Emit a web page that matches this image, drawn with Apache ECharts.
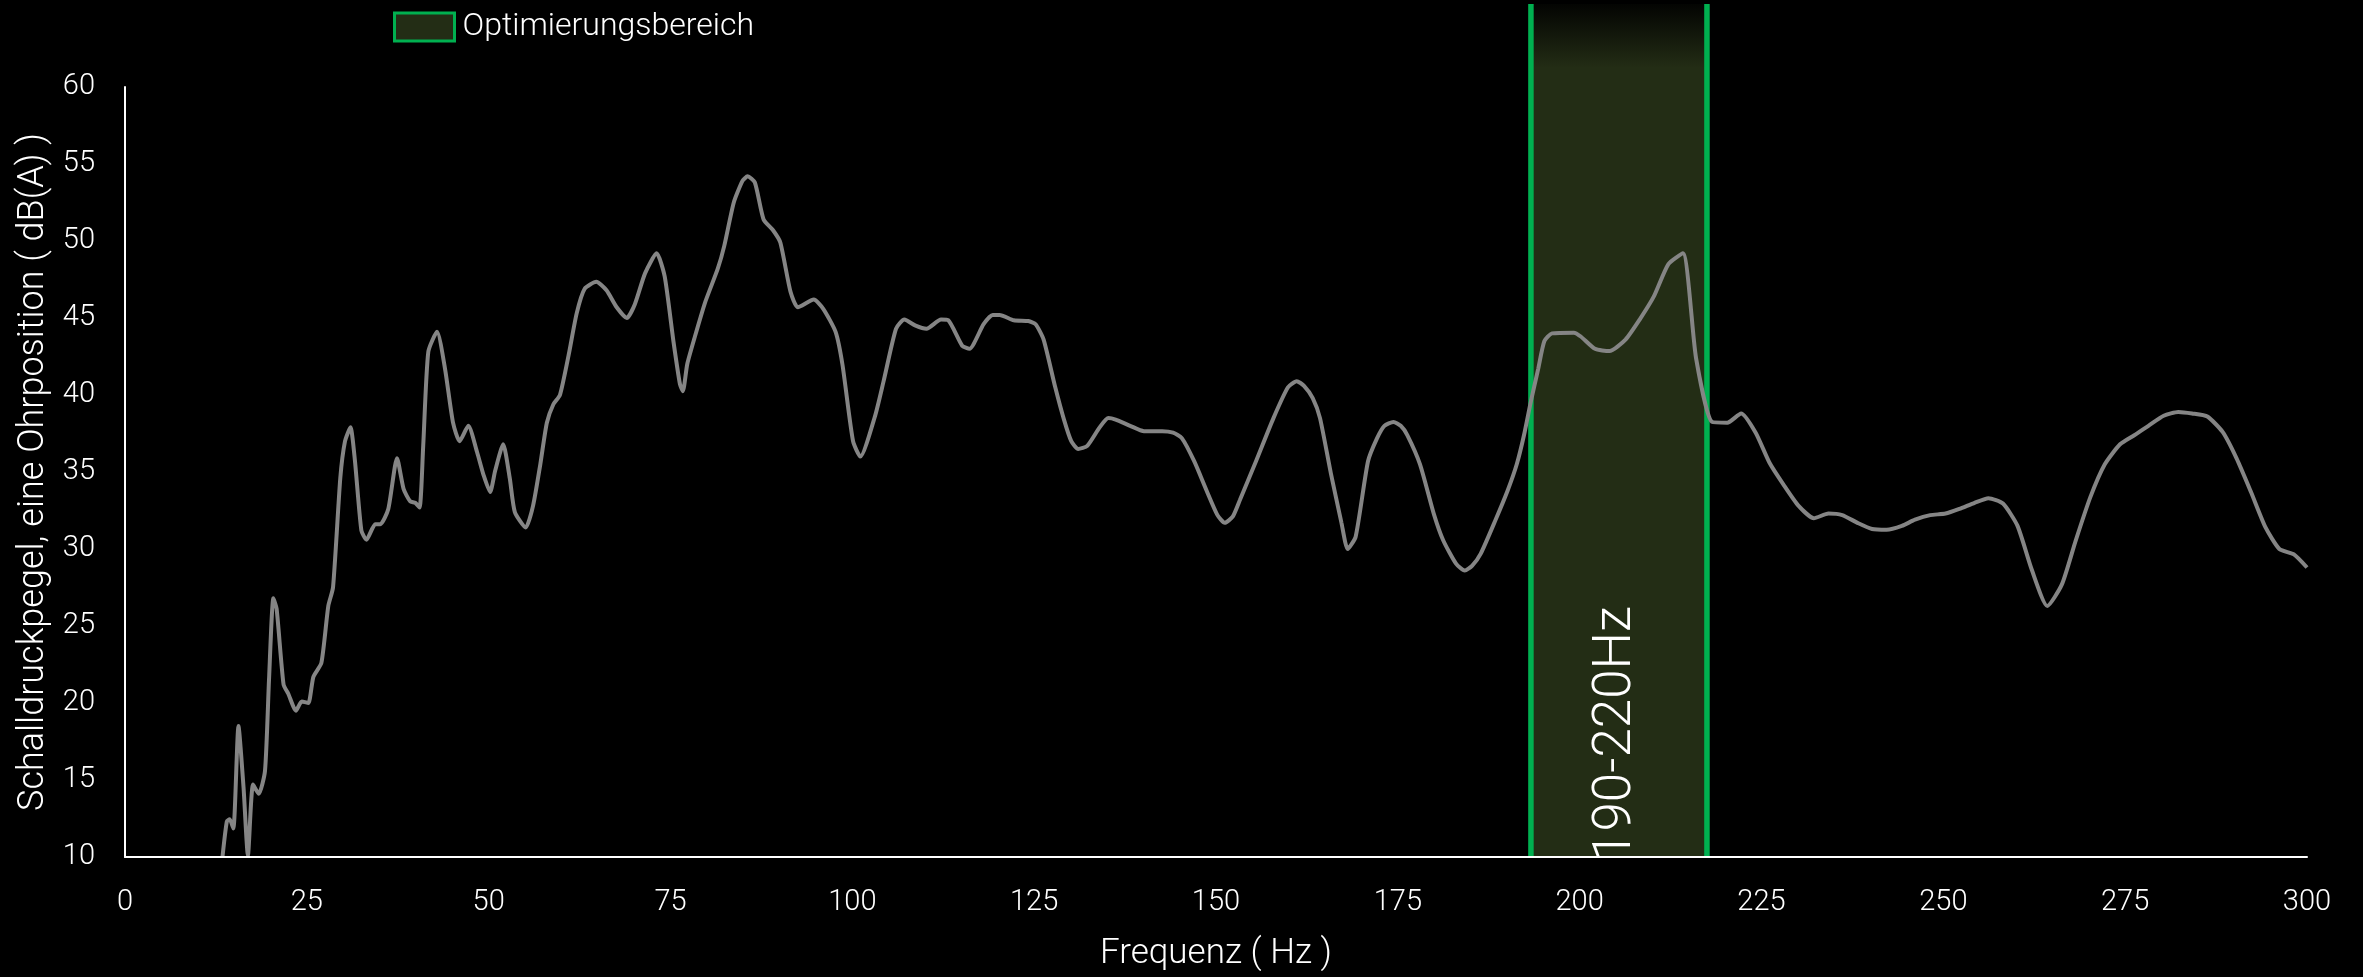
<!DOCTYPE html>
<html>
<head>
<meta charset="utf-8">
<title>Schalldruckpegel</title>
<script src="https://cdn.jsdelivr.net/npm/echarts@6/dist/echarts.min.js"></script>
<style>
  html, body { margin: 0; padding: 0; background: #000; }
  #chart { width: 2363px; height: 977px; }
</style>
</head>
<body>
<div id="chart"></div>
<script>
// Measured sound pressure level at one ear position over frequency
const freqHz = [
  13.4, 14.0, 14.4, 14.9, 15.6, 16.3, 16.9, 17.6, 18.4, 19.25, 19.8, 20.4, 20.85, 21.8, 22.45,
  23.5, 24.3, 25.2, 25.9, 27.0, 27.95, 28.6, 29.6, 30.25, 31.0, 31.6, 32.5, 33.2, 34.4, 35.1,
  36.2, 37.4, 38.3, 39.2, 39.9, 40.5, 41.0, 41.7, 42.9, 44.0, 45.1, 46.0, 47.2, 48.4, 49.3,
  50.2, 50.9, 52.0, 52.9, 53.6, 55.1, 56.1, 57.1, 58.0, 58.9, 59.8, 61.0, 62.1, 63.2, 64.8,
  66.2, 67.6, 69.0, 70.1, 71.5, 73.1, 74.2, 75.4, 76.3, 76.7, 77.3, 78.3, 79.75, 81.5, 82.4,
  83.7, 84.9, 85.6, 86.6, 87.8, 89.1, 90.1, 91.5, 92.5, 94.7, 96.0, 97.7, 98.65, 100.1, 101.1,
  103.1, 104.3, 106.0, 107.15, 108.7, 110.2, 112.2, 113.2, 115.1, 116.1, 118.05, 119.3, 120.25, 122.2, 124.2,
  125.2, 126.3, 127.9, 129.1, 130.1, 131.05, 132.3, 134.0, 135.2, 136.2, 138.2, 140.1, 142.6, 144.1, 145.3,
  147.0, 148.7, 150.2, 151.2, 152.3, 153.3, 155.5, 157.9, 159.9, 161.1, 162.1, 163.3, 164.3, 165.8, 167.25,
  168.1, 169.2, 170.9, 172.15, 173.15, 174.4, 175.4, 176.3, 178.05, 180.0, 181.25, 183.0, 184.2, 185.2, 186.4,
  188.4, 190.1, 191.35, 192.35, 193.3, 194.3, 195.15, 196.2, 199.2, 200.15, 202.1, 204.1, 206.3, 208.25, 210.2,
  212.2, 214.2, 216.0, 218.2, 220.3, 222.2, 224.2, 226.1, 228.0, 230.1, 232.2, 234.2, 236.1, 238.2, 240.2,
  242.2, 244.3, 246.1, 248.2, 250.3, 252.2, 254.3, 256.2, 258.2, 260.2, 262.2, 264.3, 266.3, 268.2, 270.2,
  272.2, 274.3, 276.3, 278.2, 280.3, 282.3, 284.2, 286.3, 288.4, 290.3, 292.3, 294.3, 296.2, 298.2, 300.0
];
const levelDb = [
  10.0, 12.3, 12.45, 11.85, 18.5, 14.5, 10.1, 14.7, 14.1, 15.6, 21.5, 26.8, 26.1, 21.2, 20.6,
  19.5, 20.1, 20.0, 21.7, 22.6, 26.3, 27.5, 34.6, 37.0, 37.9, 35.8, 31.2, 30.6, 31.6, 31.6,
  32.6, 35.9, 33.9, 33.1, 33.0, 32.7, 36.7, 42.8, 44.1, 41.7, 38.2, 37.0, 38.0, 36.3, 34.8,
  33.7, 35.1, 36.8, 34.6, 32.4, 31.4, 32.8, 35.5, 38.2, 39.4, 40.0, 42.6, 45.3, 46.9, 47.35,
  46.8, 45.7, 45.0, 45.9, 47.9, 49.2, 47.7, 43.5, 40.7, 40.25, 42.0, 43.7, 46.0, 48.2, 49.7,
  52.5, 53.9, 54.2, 53.8, 51.4, 50.7, 49.9, 46.7, 45.7, 46.2, 45.6, 44.1, 41.95, 37.0, 36.0,
  38.6, 40.9, 44.3, 44.9, 44.5, 44.3, 44.9, 44.85, 43.2, 43.0, 44.6, 45.2, 45.2, 44.85, 44.8,
  44.6, 43.6, 40.5, 38.4, 37.0, 36.5, 36.7, 37.9, 38.5, 38.4, 38.0, 37.65, 37.65, 37.55, 37.2,
  35.7, 33.8, 32.2, 31.7, 32.1, 33.2, 35.7, 38.5, 40.5, 40.9, 40.6, 39.8, 38.5, 34.9, 31.7,
  30.0, 30.8, 35.7, 37.2, 38.0, 38.25, 38.0, 37.4, 35.5, 32.2, 30.55, 29.05, 28.6, 28.9, 29.7,
  31.85, 33.8, 35.5, 37.4, 39.6, 41.7, 43.5, 44.0, 44.05, 43.8, 43.0, 42.85, 43.6, 44.9, 46.4,
  48.5, 49.2, 42.4, 38.25, 38.2, 38.8, 37.55, 35.6, 34.2, 32.8, 32.0, 32.3, 32.2, 31.7, 31.3,
  31.25, 31.5, 31.9, 32.2, 32.3, 32.6, 33.0, 33.3, 32.95, 31.5, 28.6, 26.3, 27.7, 30.55, 33.35,
  35.5, 36.8, 37.4, 38.0, 38.65, 38.9, 38.8, 38.6, 37.6, 35.9, 33.7, 31.4, 30.0, 29.65, 28.8
];

// Axis ticks
const xTicks = [0, 25, 50, 75, 100, 125, 150, 175, 200, 225, 250, 275, 300];
const yTicks = [10, 15, 20, 25, 30, 35, 40, 45, 50, 55, 60];

// Highlighted frequency range
const bandRange = [193.3, 217.5];
const bandLabel = '190-220Hz';
const bandName = 'Optimierungsbereich';

const FONT = 'Roboto, "Open Sans", "DejaVu Sans", sans-serif';
const BAND_FILL = '#232d15';
const BAND_EDGE = '#00b050';

const chart = echarts.init(document.getElementById('chart'), null, { renderer: 'canvas' });

function renderBand(params, api) {
  const x0 = api.coord([api.value(0), yTicks[0]])[0];
  const x1 = api.coord([api.value(1), yTicks[0]])[0];
  const yBottom = api.coord([api.value(0), yTicks[0]])[1];
  const top = params.coordSys.y - 83;
  const h = yBottom - top;
  return {
    type: 'group',
    children: [
      {
        type: 'rect',
        shape: { x: x0, y: top, width: x1 - x0, height: h },
        style: {
          fill: {
            type: 'linear', x: 0, y: 0, x2: 0, y2: 1,
            colorStops: [
              { offset: 0, color: '#030402' },
              { offset: 0.075, color: BAND_FILL },
              { offset: 1, color: BAND_FILL }
            ]
          }
        }
      },
      {
        type: 'line',
        shape: { x1: x0, y1: top, x2: x0, y2: yBottom },
        style: { stroke: BAND_EDGE, lineWidth: 5.5 }
      },
      {
        type: 'line',
        shape: { x1: x1, y1: top, x2: x1, y2: yBottom },
        style: { stroke: BAND_EDGE, lineWidth: 5.5 }
      },
      {
        type: 'text',
        x: (x0 + x1) / 2 - 2,
        y: yBottom + 4,
        rotation: Math.PI / 2,
        style: {
          text: bandLabel,
          fill: '#ffffff',
          fontFamily: FONT,
          fontWeight: 300,
          fontSize: 53,
          align: 'left',
          verticalAlign: 'middle'
        }
      }
    ]
  };
}

const option = {
  backgroundColor: '#000000',
  animation: false,
  textStyle: { fontFamily: FONT },
  legend: {
    left: 393,
    top: 11,
    itemWidth: 60,
    itemHeight: 28,
    padding: 0,
    textStyle: { color: '#ffffff', fontSize: 32, fontWeight: 300, fontFamily: FONT, padding: [0, 0, 0, 3] },
    data: [{
      name: bandName,
      icon: 'rect',
      itemStyle: { color: BAND_FILL, borderColor: BAND_EDGE, borderWidth: 3 }
    }]
  },
  grid: { left: 125, right: 56, top: 87, bottom: 115, containLabel: false },
  xAxis: {
    type: 'value',
    min: xTicks[0],
    max: xTicks[xTicks.length - 1],
    interval: xTicks[1] - xTicks[0],
    z: 5,
    name: 'Frequenz ( Hz )',
    nameLocation: 'middle',
    nameGap: 80,
    nameTextStyle: { color: '#ffffff', fontSize: 35, fontWeight: 300, fontFamily: FONT },
    axisLine: { show: true, lineStyle: { color: '#ffffff', width: 2 } },
    axisTick: { show: false },
    splitLine: { show: false },
    axisLabel: { color: '#ffffff', fontSize: 29, fontWeight: 300, fontFamily: FONT, margin: 31 }
  },
  yAxis: {
    type: 'value',
    min: yTicks[0],
    max: yTicks[yTicks.length - 1],
    interval: yTicks[1] - yTicks[0],
    z: 5,
    name: 'Schalldruckpegel, eine Ohrposition ( dB(A) )',
    nameLocation: 'middle',
    nameGap: 72,
    nameTextStyle: { color: '#ffffff', fontSize: 36, fontWeight: 300, fontFamily: FONT },
    axisLine: { show: true, lineStyle: { color: '#ffffff', width: 2 } },
    axisTick: { show: false },
    splitLine: { show: false },
    axisLabel: { color: '#ffffff', fontSize: 29, fontWeight: 300, fontFamily: FONT, margin: 30 }
  },
  series: [
    {
      name: bandName,
      type: 'custom',
      z: 1,
      clip: false,
      silent: true,
      renderItem: renderBand,
      encode: { x: [0, 1] },
      itemStyle: { color: BAND_FILL, borderColor: BAND_EDGE, borderWidth: 3 },
      data: [bandRange]
    },
    {
      name: 'Schalldruckpegel',
      type: 'line',
      z: 4,
      showSymbol: false,
      smooth: 0.2,
      lineStyle: { color: '#858585', width: 4 },
      itemStyle: { color: '#858585' },
      data: freqHz.map((f, i) => [f, levelDb[i]])
    }
  ]
};

chart.setOption(option);
</script>
</body>
</html>
